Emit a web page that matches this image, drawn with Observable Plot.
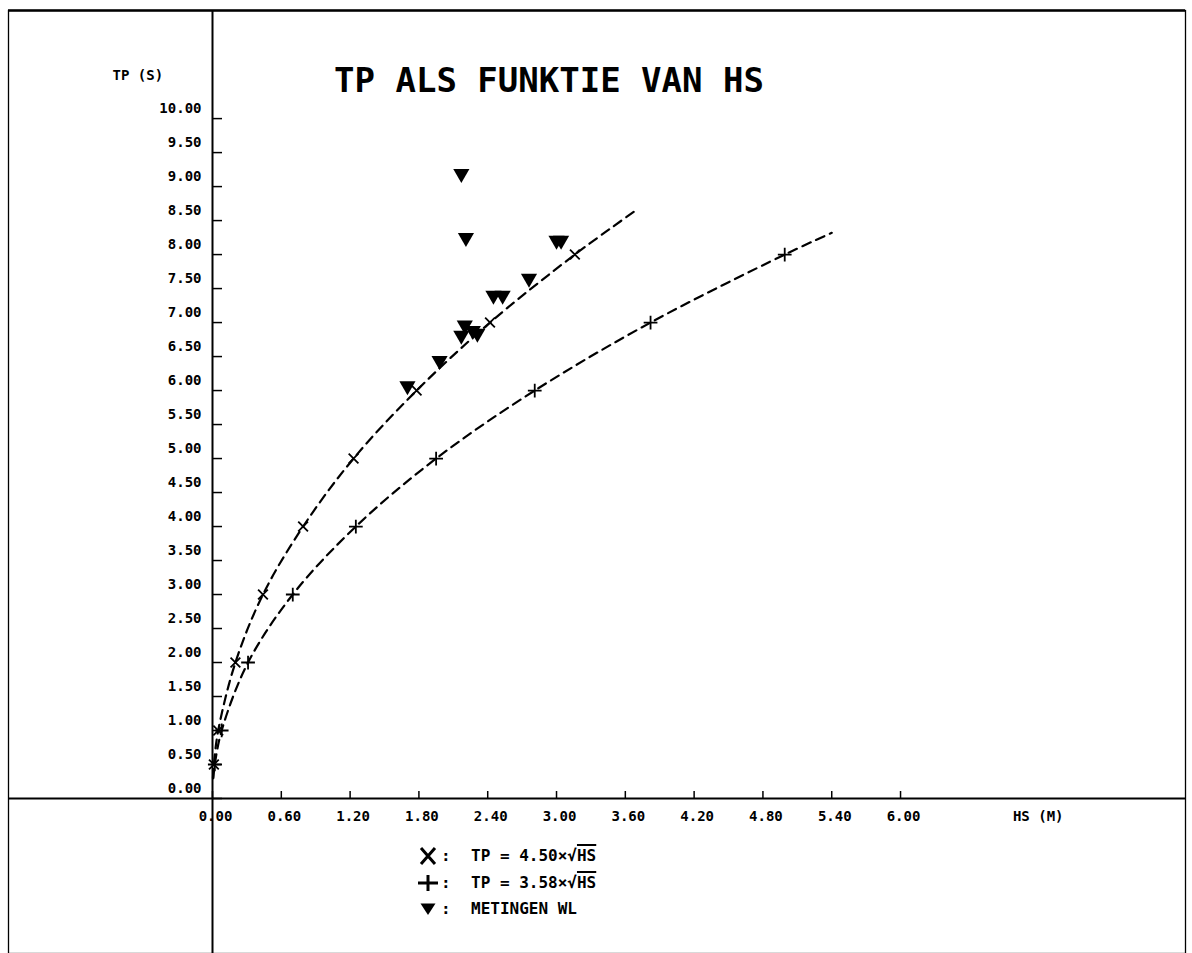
<!DOCTYPE html>
<html>
<head>
<meta charset="utf-8">
<script src="https://cdn.jsdelivr.net/npm/d3@7"></script>
<script src="https://cdn.jsdelivr.net/npm/@observablehq/plot@0.6"></script>
<style>
  body { margin: 0; background: #fff; }
  #wrap { position: relative; width: 1192px; height: 953px; }
  #legend { position: absolute; left: 0; top: 0; width: 1192px; height: 953px; pointer-events: none;
            font-family: "DejaVu Sans Mono", monospace; font-weight: bold; font-size: 16px; color: #000; }
  .sym { position: absolute; }
  .lbl { position: absolute; line-height: 16px; white-space: nowrap; }
  .rad { text-decoration: overline; text-decoration-thickness: 2px; }
</style>
</head>
<body>
<div id="wrap"><div id="legend"></div></div>
<script>
// ---- data ----
const tpMarks   = [0.5, 1, 2, 3, 4, 5, 6, 7, 8];                        // TP levels of the fit markers (s)
const hsFit450  = [0.012, 0.05, 0.20, 0.44, 0.79, 1.23, 1.78, 2.42, 3.16]; // HS (m) of "X" markers
const hsFit358  = [0.02, 0.08, 0.31, 0.70, 1.25, 1.95, 2.81, 3.82, 4.99];  // HS (m) of "+" markers
const lineTp450 = [0.3, 0.5, 1, 2, 3, 4, 5, 6, 7, 8, 8.66];
const lineHs450 = [0.004, 0.012, 0.05, 0.20, 0.44, 0.79, 1.23, 1.78, 2.42, 3.16, 3.70];
const lineTp358 = [0.3, 0.5, 1, 2, 3, 4, 5, 6, 7, 8, 8.32];
const lineHs358 = [0.007, 0.02, 0.08, 0.31, 0.70, 1.25, 1.95, 2.81, 3.82, 4.99, 5.40];
const measHs    = [1.70, 1.98, 2.17, 2.20, 2.27, 2.31, 2.17, 2.21, 2.45, 2.53, 2.76, 3.00, 3.04];
const measTp    = [6.07, 6.44, 6.81, 6.96, 6.88, 6.84, 9.19, 8.25, 7.40, 7.40, 7.65, 8.21, 8.21];
const xTicks    = [0, 0.6, 1.2, 1.8, 2.4, 3.0, 3.6, 4.2, 4.8, 5.4, 6.0];
const yTicks    = [0, 0.5, 1, 1.5, 2, 2.5, 3, 3.5, 4, 4.5, 5, 5.5, 6, 6.5, 7, 7.5, 8, 8.5, 9, 9.5, 10];
const titleText = "TP ALS FUNKTIE VAN HS";
const yLabel    = "TP (S)";
const xLabel    = "HS (M)";
const legendItems = [
  {sym: "times", pre: "TP = 4.50×√", rad: "HS"},
  {sym: "plus",  pre: "TP = 3.58×√", rad: "HS"},
  {sym: "tri",   pre: "METINGEN WL", rad: ""}
];

// ---- build tables ----
const fitX = tpMarks.map((tp, i) => ({hs: hsFit450[i], tp}));
const fitP = tpMarks.map((tp, i) => ({hs: hsFit358[i], tp}));
const curveX = lineTp450.map((tp, i) => ({hs: lineHs450[i], tp}));
const curveP = lineTp358.map((tp, i) => ({hs: lineHs358[i], tp}));
const meas = measHs.map((hs, i) => ({hs, tp: measTp[i]}));

const font = "DejaVu Sans Mono";
const txt = {fontFamily: font, fontWeight: "bold", fill: "black"};
const dash = {stroke: "black", strokeWidth: 2.2, strokeDasharray: "9,6", curve: "catmull-rom"};

const chart = Plot.plot({
  width: 1192,
  height: 953,
  marginLeft: 8,
  marginRight: 7,
  marginTop: 10,
  marginBottom: 0,
  style: {background: "white", overflow: "visible"},
  x: {domain: [-1.779, 8.485], axis: null},
  y: {domain: [-2.28, 11.59], axis: null},
  marks: [
    Plot.frame({stroke: "black", strokeWidth: 1.3}),
    Plot.ruleY([11.59], {stroke: "black", strokeWidth: 2.5}),
    Plot.ruleX([0], {stroke: "black", strokeWidth: 2}),
    Plot.ruleY([0], {stroke: "black", strokeWidth: 2}),
    Plot.ruleY(yTicks, {y: d => d, x1: () => 0, x2: () => 0, insetRight: -10, stroke: "black", strokeWidth: 1.5}),
    Plot.ruleX(xTicks, {x: d => d, y1: () => 0, y2: () => 0, insetBottom: 7, stroke: "black", strokeWidth: 1.5}),
    Plot.text(yTicks, {x: () => 0, y: d => d, text: d => d.toFixed(2), textAnchor: "end", dx: -11, dy: -10, fontSize: 14, ...txt}),
    Plot.text(xTicks, {x: d => d, y: () => 0, text: d => d.toFixed(2), dx: 3, dy: 18, fontSize: 14, ...txt}),
    Plot.text([yLabel], {frameAnchor: "top-left", text: d => d, dx: 104, dy: 60, fontSize: 14, ...txt}),
    Plot.text([xLabel], {frameAnchor: "right", y: () => 0, text: d => d, dx: -122, dy: 18, fontSize: 14, ...txt}),
    Plot.text([titleText], {frameAnchor: "top", text: d => d, dx: -48, dy: 57, fontSize: 34, ...txt}),
    Plot.line(curveX, {x: "hs", y: "tp", ...dash}),
    Plot.line(curveP, {x: "hs", y: "tp", ...dash}),
    Plot.dot(fitX, {x: "hs", y: "tp", symbol: "times", r: 4.5, stroke: "black", strokeWidth: 1.8}),
    Plot.dot(fitP, {x: "hs", y: "tp", symbol: "plus", r: 4.5, stroke: "black", strokeWidth: 1.8}),
    Plot.dot(meas, {x: "hs", y: "tp", symbol: "triangle", rotate: 180, r: 6, fill: "black", stroke: "none"})
  ]
});
document.getElementById("wrap").prepend(chart);

// ---- legend (below-left of the plot area, inside the figure frame) ----
const legend = document.getElementById("legend");
const symSvg = {
  times: '<svg width="20" height="20" viewBox="-10 -10 20 20"><path d="M-7,-8L7,8M7,-8L-7,8" stroke="black" stroke-width="3"/></svg>',
  plus:  '<svg width="22" height="20" viewBox="-11 -10 22 20"><path d="M-10,0H10M0,-8V8" stroke="black" stroke-width="3"/></svg>',
  tri:   '<svg width="20" height="20" viewBox="-10 -10 20 20"><path d="M-7.5,-5.5H7.5L0,6Z" fill="black"/></svg>'
};
legendItems.forEach((it, i) => {
  const cy = 856 + i * 26.5;
  const s = document.createElement("div");
  s.className = "sym";
  s.style.left = (it.sym === "plus" ? 417 : 418) + "px";
  s.style.top = (cy - 10) + "px";
  s.innerHTML = symSvg[it.sym];
  legend.appendChild(s);
  const c = document.createElement("div");
  c.className = "lbl";
  c.style.left = "441px";
  c.style.top = (cy - 8) + "px";
  c.textContent = ":";
  legend.appendChild(c);
  const t = document.createElement("div");
  t.className = "lbl";
  t.style.left = "471px";
  t.style.top = (cy - 8) + "px";
  t.innerHTML = it.pre + (it.rad ? '<span class="rad">' + it.rad + '</span>' : "");
  legend.appendChild(t);
});
</script>
</body>
</html>
